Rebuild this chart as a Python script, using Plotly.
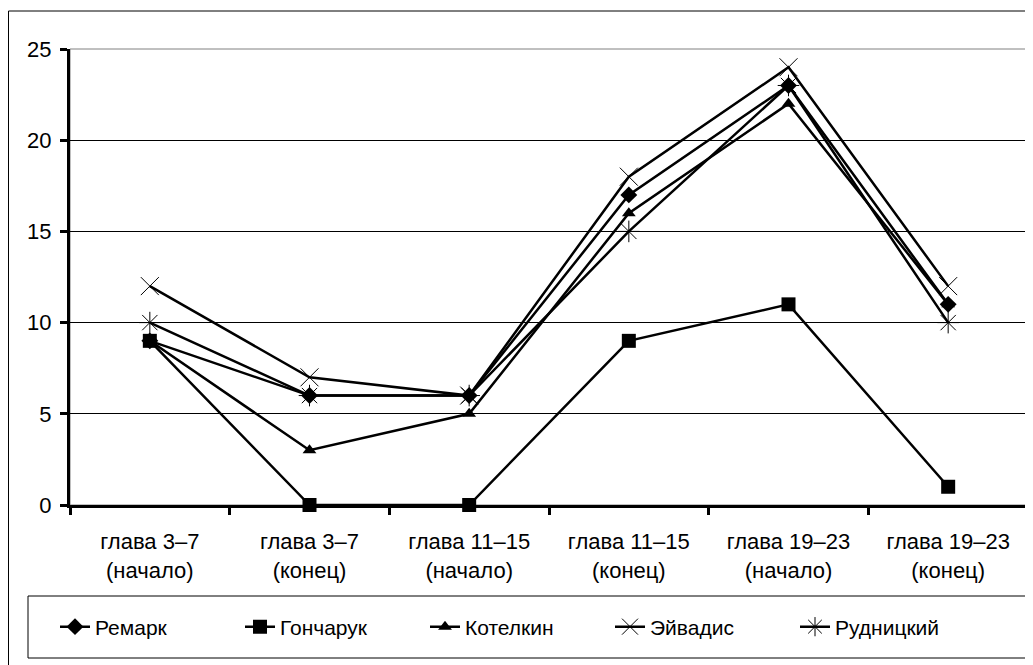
import plotly.graph_objects as go

categories = [
    "глава 3–7<br>(начало)",
    "глава 3–7<br>(конец)",
    "глава 11–15<br>(начало)",
    "глава 11–15<br>(конец)",
    "глава 19–23<br>(начало)",
    "глава 19–23<br>(конец)",
]
remark = [9, 6, 6, 17, 23, 11]
goncharuk = [9, 0, 0, 9, 11, 1]
kotelkin = [9, 3, 5, 16, 22, 11]
eyvadis = [12, 7, 6, 18, 24, 12]
rudnitsky = [10, 6, 6, 15, 23, 10]

series = [
    ("Ремарк", remark, "diamond", 13, 0),
    ("Гончарук", goncharuk, "square", 14, 0),
    ("Котелкин", kotelkin, "triangle-up", 12, 0),
    ("Эйвадис", eyvadis, "x-thin", 18, 1),
    ("Рудницкий", rudnitsky, "asterisk", 18, 1),
]

# page body has an 8px margin; figure coordinates = reference pixel - 8
OFF = 8
W, H = 1025, 657
L, R, T, B = 62, 5, 41, 160
pw = W - L - R
ph = H - T - B


def px_x(p):
    return (p - OFF - L) / pw


def px_y(p):
    return (H - B - (p - OFF)) / ph


fig = go.Figure()
for name, vals, sym, size, lw in series:
    fig.add_trace(go.Scatter(
        x=categories, y=vals, name=name, mode="lines+markers",
        line=dict(color="black", width=2.5),
        marker=dict(symbol=sym, size=size, color="black",
                    line=dict(color="black", width=lw)),
        cliponaxis=False,
    ))

shapes = [
    # outer chart border
    dict(type="rect", xref="paper", yref="paper",
         x0=px_x(8.5), x1=px_x(1060), y0=px_y(11), y1=px_y(690),
         line=dict(color="black", width=1), layer="below"),
    # plot area border
    dict(type="rect", xref="paper", yref="paper",
         x0=0, x1=1, y0=0, y1=1,
         line=dict(color="#808080", width=1), layer="below"),
    # legend box
    dict(type="rect", xref="paper", yref="paper",
         x0=px_x(28), x1=px_x(1026), y0=px_y(596), y1=px_y(658),
         line=dict(color="black", width=1), layer="below"),
]

fig.update_layout(
    width=W, height=H,
    margin=dict(l=L, r=R, t=T, b=B),
    paper_bgcolor="white", plot_bgcolor="white",
    font=dict(family="Arial, Liberation Sans, sans-serif", size=22, color="black"),
    showlegend=True,
    legend=dict(
        orientation="h", x=px_x(55), xanchor="left",
        y=px_y(627), yanchor="middle",
        entrywidth=140, entrywidthmode="pixels",
        font=dict(size=21), bgcolor="rgba(0,0,0,0)", borderwidth=0,
    ),
    shapes=shapes,
    xaxis=dict(
        type="category", range=[-0.5, 5.5], tickson="boundaries",
        ticks="outside", ticklen=7, tickwidth=3, tickcolor="black",
        ticklabelstandoff=15,
        showline=True, linecolor="black", linewidth=3,
        showgrid=False, zeroline=False, fixedrange=True,
        tickfont=dict(size=22),
    ),
    yaxis=dict(
        range=[0, 25], dtick=5, ticks="outside", ticklen=7,
        tickwidth=3, tickcolor="black", ticklabelstandoff=4,
        showline=True, linecolor="black", linewidth=3,
        showgrid=True, gridcolor="black", gridwidth=1,
        zeroline=False, fixedrange=True, tickfont=dict(size=22),
    ),
)

fig.write_html("out.html")
